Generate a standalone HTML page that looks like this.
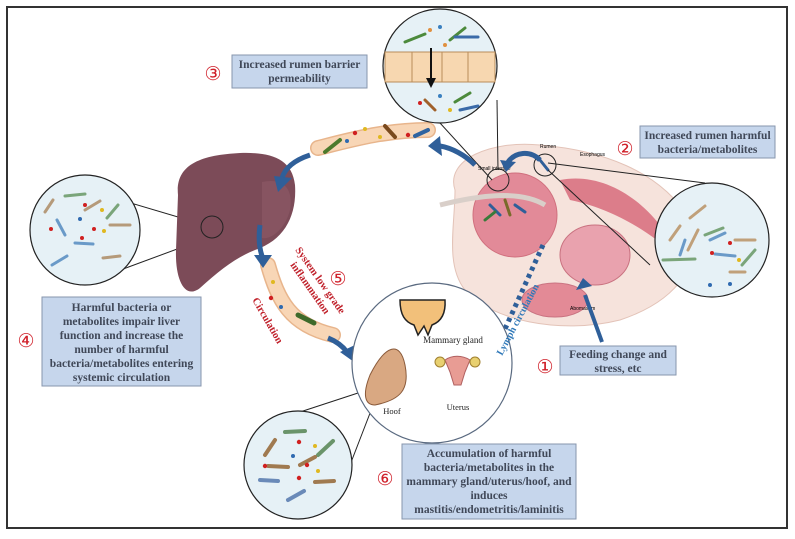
<!DOCTYPE html>
<html><head><meta charset="utf-8"><style>
html,body{margin:0;padding:0;background:#fff}
svg{display:block}
.bx{fill:#c6d6ec;stroke:#8796ad;stroke-width:1}
.t{font-family:"Liberation Serif",serif;font-weight:bold;fill:#404858;font-size:11.5px;text-anchor:middle}
.n{font-family:"DejaVu Sans",sans-serif;fill:#d0202a;font-size:19px;text-anchor:middle}
.zc{fill:#e6f1f6;stroke:#222;stroke-width:1.2}
</style></head><body>
<svg width="795" height="539" viewBox="0 0 795 539">
<rect x="7" y="7" width="780" height="521" fill="#fff" stroke="#333" stroke-width="2"/>

<!-- rumen -->
<path d="M455,190 C445,160 490,140 540,145 C600,150 660,170 690,220 C705,260 680,300 620,320 C560,335 490,320 465,290 C445,265 455,225 455,190Z" fill="#f6e3dc" stroke="#e3c3b8"/>
<circle cx="515" cy="215" r="42" fill="#e28a98" stroke="#d0707e"/>
<path d="M560,180 C610,170 660,210 680,260 C660,240 620,210 570,200Z" fill="#dc7d8a"/>
<ellipse cx="595" cy="255" rx="35" ry="30" fill="#e9a2ae" stroke="#c97280"/>
<ellipse cx="555" cy="300" rx="33" ry="17" fill="#e38a96" stroke="#c97280"/>
<path d="M440,205 C480,195 520,190 545,205" stroke="#d9cfc9" stroke-width="5" fill="none"/>
<circle cx="498" cy="180" r="11" fill="none" stroke="#222"/>
<circle cx="545" cy="165" r="11" fill="none" stroke="#222"/>
<g stroke-width="3" stroke-linecap="round">
<line x1="490" y1="205" x2="500" y2="215" stroke="#2f5f99"/><line x1="505" y1="200" x2="510" y2="215" stroke="#7a6a2a"/>
<line x1="515" y1="205" x2="525" y2="212" stroke="#2f5f99"/><line x1="495" y1="212" x2="485" y2="220" stroke="#3a7a3a"/>
<line x1="540" y1="160" x2="548" y2="170" stroke="#2f5f99"/>
</g>
<text x="478" y="170" font-size="5" font-family="Liberation Sans,sans-serif">Small intestine</text>
<text x="540" y="148" font-size="5" font-family="Liberation Sans,sans-serif">Rumen</text>
<text x="580" y="156" font-size="5" font-family="Liberation Sans,sans-serif">Esophagus</text>
<text x="570" y="310" font-size="5" font-family="Liberation Sans,sans-serif">Abomasum</text>

<!-- connector lines -->
<line x1="440" y1="123" x2="492" y2="180" stroke="#222"/>
<line x1="497" y1="100" x2="498" y2="170" stroke="#222"/>
<line x1="548" y1="163" x2="705" y2="183" stroke="#222"/>
<line x1="548" y1="170" x2="650" y2="265" stroke="#222"/>
<line x1="60" y1="182" x2="205" y2="225" stroke="#222"/>
<line x1="80" y1="285" x2="215" y2="235" stroke="#222"/>
<line x1="300" y1="412" x2="358" y2="393" stroke="#222"/>
<line x1="350" y1="465" x2="372" y2="408" stroke="#222"/>

<!-- liver -->
<path d="M178,195 C175,165 200,155 240,153 C270,152 292,158 295,185 C297,215 285,240 255,250 C235,258 220,270 200,288 C185,300 175,280 176,250Z" fill="#7c4b58"/>
<path d="M262,182 C280,178 294,185 290,210 C285,230 270,240 262,238Z" fill="#875461"/>
<circle cx="212" cy="227" r="11" fill="none" stroke="#222"/>

<!-- vessels -->
<path d="M318,148 C350,140 385,130 428,130" stroke="#e8b58c" stroke-width="16" fill="none" stroke-linecap="round"/>
<path d="M318,148 C350,140 385,130 428,130" stroke="#f8d6b6" stroke-width="13" fill="none" stroke-linecap="round"/>
<path d="M268,265 C278,300 290,325 333,335" stroke="#e8b58c" stroke-width="16" fill="none" stroke-linecap="round"/>
<path d="M268,265 C278,300 290,325 333,335" stroke="#f8d6b6" stroke-width="13" fill="none" stroke-linecap="round"/>
<g stroke-linecap="round">
<line x1="325" y1="152" x2="340" y2="140" stroke="#4c7a2c" stroke-width="4"/>
<line x1="385" y1="126" x2="395" y2="137" stroke="#7a4a1e" stroke-width="4"/>
<line x1="415" y1="136" x2="428" y2="130" stroke="#3064a0" stroke-width="4"/>
<line x1="298" y1="315" x2="314" y2="323" stroke="#3f6a2a" stroke-width="5"/>
</g>
<circle cx="347" cy="141" r="2" fill="#2f6ab0"/><circle cx="355" cy="133" r="2.2" fill="#d02020"/><circle cx="365" cy="129" r="2" fill="#e0b820"/><circle cx="380" cy="137" r="2" fill="#e0b820"/><circle cx="408" cy="135" r="2.2" fill="#d02020"/>
<circle cx="273" cy="282" r="2" fill="#e0b820"/><circle cx="271" cy="298" r="2.2" fill="#d02020"/><circle cx="281" cy="307" r="2" fill="#2f6ab0"/>

<!-- arrows -->
<g fill="none" stroke="#2f5f99" stroke-width="5">
<path d="M310,155 C295,160 285,168 282,178"/>
<path d="M260,225 C258,240 260,250 262,256"/>
<path d="M328,338 C338,342 344,348 347,352"/>
<path d="M475,165 C465,155 452,148 440,146"/>
<path d="M540,160 C530,150 515,152 508,162"/>
<path d="M602,342 L585,295" stroke-width="4"/>
<path d="M543,245 L500,340" stroke-dasharray="4,4" stroke-width="5"/>
</g>
<g fill="#2f5f99">
<polygon points="274,176 292,178 278,192"/>
<polygon points="254,255 272,255 263,268"/>
<polygon points="340,352 355,345 354,362"/>
<polygon points="440,136 442,156 428,146"/>
<polygon points="500,160 516,162 506,172"/>
<polygon points="576,290 592,286 583,278"/>
<polygon points="490,333 504,340 493,350"/>
</g>

<!-- top zoom circle -->
<circle cx="440" cy="66" r="57" class="zc"/>
<rect x="385" y="52" width="110" height="30" fill="#f7d7b0" stroke="#b98c5a"/>
<line x1="412" y1="52" x2="412" y2="82" stroke="#b98c5a"/><line x1="442" y1="52" x2="442" y2="82" stroke="#b98c5a"/><line x1="468" y1="52" x2="468" y2="82" stroke="#b98c5a"/>
<line x1="431" y1="48" x2="431" y2="80" stroke="#111" stroke-width="2"/><polygon points="426,78 436,78 431,88" fill="#111"/>
<g stroke-linecap="round" stroke-width="3">
<line x1="405" y1="42" x2="425" y2="34" stroke="#4c8a3c"/><line x1="450" y1="40" x2="465" y2="28" stroke="#4c8a3c"/><line x1="455" y1="37" x2="478" y2="37" stroke="#3a6aa8"/>
<line x1="425" y1="100" x2="435" y2="110" stroke="#a0602a"/><line x1="455" y1="102" x2="470" y2="93" stroke="#4c8a3c"/><line x1="460" y1="110" x2="478" y2="106" stroke="#3a6aa8"/>
</g>
<circle cx="430" cy="30" r="2" fill="#e09040"/><circle cx="440" cy="27" r="2" fill="#3a80c0"/><circle cx="445" cy="45" r="2" fill="#e09040"/><circle cx="420" cy="103" r="2" fill="#d02020"/><circle cx="450" cy="110" r="2" fill="#e0b820"/><circle cx="440" cy="96" r="2" fill="#3a80c0"/>

<!-- liver zoom circle -->
<circle cx="85" cy="230" r="55" class="zc"/>
<g stroke-linecap="round" stroke-width="3" fill="none">
<line x1="65" y1="196" x2="85" y2="194" stroke="#7aa57a"/><line x1="45" y1="212" x2="53" y2="200" stroke="#b59a7a"/><line x1="85" y1="210" x2="100" y2="201" stroke="#b59a7a"/>
<line x1="107" y1="218" x2="118" y2="205" stroke="#7aa57a"/><line x1="57" y1="220" x2="65" y2="235" stroke="#6a9ac8"/><line x1="110" y1="225" x2="130" y2="225" stroke="#b59a7a"/>
<line x1="75" y1="243" x2="93" y2="244" stroke="#6a9ac8"/><line x1="52" y1="265" x2="67" y2="256" stroke="#6a9ac8"/><line x1="103" y1="258" x2="120" y2="256" stroke="#b59a7a"/>
</g>
<circle cx="85" cy="205" r="2" fill="#d02020"/><circle cx="102" cy="210" r="2" fill="#e0b820"/><circle cx="80" cy="219" r="2" fill="#2f6ab0"/><circle cx="51" cy="229" r="2" fill="#d02020"/><circle cx="94" cy="229" r="2" fill="#d02020"/><circle cx="104" cy="231" r="2" fill="#e0b820"/><circle cx="82" cy="238" r="2" fill="#d02020"/>

<!-- right rumen zoom circle -->
<circle cx="712" cy="240" r="57" class="zc"/>
<g stroke-linecap="round" stroke-width="3">
<line x1="690" y1="218" x2="705" y2="206" stroke="#c0a07a"/><line x1="670" y1="240" x2="680" y2="226" stroke="#c0a07a"/><line x1="688" y1="250" x2="698" y2="230" stroke="#c0a07a"/>
<line x1="680" y1="255" x2="685" y2="240" stroke="#6a9ac8"/><line x1="705" y1="235" x2="723" y2="228" stroke="#7aa57a"/><line x1="710" y1="240" x2="725" y2="233" stroke="#6a9ac8"/>
<line x1="735" y1="240" x2="755" y2="240" stroke="#c0a07a"/><line x1="663" y1="260" x2="695" y2="259" stroke="#7aa57a"/><line x1="715" y1="254" x2="735" y2="256" stroke="#6a9ac8"/><line x1="742" y1="265" x2="755" y2="250" stroke="#7aa57a"/><line x1="730" y1="272" x2="745" y2="272" stroke="#c0a07a"/>
</g>
<circle cx="730" cy="243" r="2" fill="#d02020"/><circle cx="712" cy="253" r="2" fill="#d02020"/><circle cx="739" cy="260" r="2" fill="#e0b820"/><circle cx="710" cy="285" r="2" fill="#2f6ab0"/><circle cx="730" cy="284" r="2" fill="#2f6ab0"/>

<!-- bottom zoom circle -->
<circle cx="298" cy="465" r="54" class="zc"/>
<g stroke-linecap="round" stroke-width="4">
<line x1="285" y1="432" x2="305" y2="431" stroke="#6a946a"/><line x1="265" y1="455" x2="275" y2="440" stroke="#a07a50"/><line x1="318" y1="455" x2="333" y2="441" stroke="#6a946a"/>
<line x1="268" y1="466" x2="288" y2="467" stroke="#a07a50"/><line x1="300" y1="465" x2="315" y2="457" stroke="#a07a50"/><line x1="260" y1="480" x2="278" y2="481" stroke="#6a8ab8"/>
<line x1="315" y1="482" x2="334" y2="481" stroke="#a07a50"/><line x1="288" y1="500" x2="304" y2="491" stroke="#6a8ab8"/>
</g>
<circle cx="299" cy="442" r="2.2" fill="#d02020"/><circle cx="315" cy="446" r="2" fill="#e0b820"/><circle cx="293" cy="456" r="2" fill="#2f6ab0"/><circle cx="265" cy="466" r="2.2" fill="#d02020"/><circle cx="307" cy="465" r="2.2" fill="#d02020"/><circle cx="318" cy="471" r="2" fill="#e0b820"/><circle cx="299" cy="478" r="2.2" fill="#d02020"/>

<!-- organ circle -->
<circle cx="432" cy="363" r="80" fill="#fff" stroke="#5a6a80" stroke-width="1.2"/>
<path d="M400,300 L445,300 C446,315 440,322 432,325 L428,335 L424,326 L418,335 L414,325 C405,322 400,315 400,300Z" fill="#f2c07a" stroke="#222" stroke-width="1.5"/>
<path d="M370,375 C385,345 400,340 405,365 C410,390 400,400 375,405 C365,405 362,395 370,375Z" fill="#d9a882" stroke="#8a5a3a"/>
<path d="M445,360 C452,355 462,355 470,360 L465,372 L461,385 L454,385 L450,372Z" fill="#e89c94" stroke="#b06060"/>
<circle cx="440" cy="362" r="5" fill="#e8d070" stroke="#a08030"/><circle cx="475" cy="362" r="5" fill="#e8d070" stroke="#a08030"/>
<text x="453" y="343" font-size="9" font-family="Liberation Serif,serif" text-anchor="middle" fill="#222">Mammary gland</text>
<text x="392" y="414" font-size="8.5" font-family="Liberation Serif,serif" text-anchor="middle" fill="#222">Hoof</text>
<text x="458" y="410" font-size="8.5" font-family="Liberation Serif,serif" text-anchor="middle" fill="#222">Uterus</text>

<!-- rotated labels -->
<text transform="translate(295,250) rotate(55)" font-family="Liberation Serif,serif" font-weight="bold" font-size="10.5" fill="#c0202a">System low grade</text>
<text transform="translate(290,265) rotate(55)" font-family="Liberation Serif,serif" font-weight="bold" font-size="10.5" fill="#c0202a">inflammation</text>
<text transform="translate(252,300) rotate(60)" font-family="Liberation Serif,serif" font-weight="bold" font-size="10.5" fill="#c0202a">Circulation</text>
<text transform="translate(502,356) rotate(-62)" font-family="Liberation Serif,serif" font-weight="bold" font-size="10" fill="#2f78b8">Lymph circulation</text>

<!-- boxes -->
<rect x="232" y="55" width="135" height="33" class="bx"/>
<text x="299.5" y="68" class="t">Increased rumen barrier</text><text x="299.5" y="82" class="t">permeability</text>
<rect x="640" y="126" width="135" height="32" class="bx"/>
<text x="707.5" y="139" class="t">Increased rumen harmful</text><text x="707.5" y="153" class="t">bacteria/metabolites</text>
<rect x="42" y="297" width="159" height="89" class="bx"/>
<g class="t"><text x="121.5" y="311">Harmful bacteria or</text><text x="121.5" y="325">metabolites impair liver</text><text x="121.5" y="339">function and increase the</text><text x="121.5" y="353">number of harmful</text><text x="121.5" y="367">bacteria/metabolites entering</text><text x="121.5" y="381">systemic circulation</text></g>
<rect x="560" y="346" width="116" height="29" class="bx"/>
<text x="618" y="358" class="t">Feeding change and</text><text x="618" y="372" class="t">stress, etc</text>
<rect x="402" y="444" width="174" height="75" class="bx"/>
<g class="t"><text x="489" y="457">Accumulation of harmful</text><text x="489" y="471">bacteria/metabolites in the</text><text x="489" y="485">mammary gland/uterus/hoof, and</text><text x="489" y="499">induces</text><text x="489" y="513">mastitis/endometritis/laminitis</text></g>

<!-- numbers -->
<text x="213" y="80" class="n">③</text>
<text x="625" y="155" class="n">②</text>
<text x="26" y="347" class="n">④</text>
<text x="338" y="285" class="n">⑤</text>
<text x="545" y="373" class="n">①</text>
<text x="385" y="485" class="n">⑥</text>
</svg>
</body></html>
